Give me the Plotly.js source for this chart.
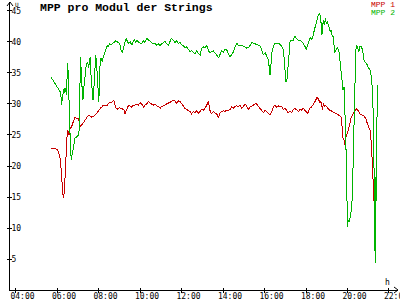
<!DOCTYPE html>
<html><head><meta charset="utf-8">
<script src="https://cdn.plot.ly/plotly-3.0.1.min.js"></script>
<style>html,body{margin:0;padding:0;background:#fff}#chart{width:400px;height:300px}
.scatterlayer path.js-line{shape-rendering:crispEdges}</style>
</head><body><div id="chart"></div>
<script>
// Time of day (HH:MM)
const times = [
"05:43","05:49","05:56","06:02","06:06","06:09","06:12","06:14","06:15","06:18","06:21","06:23","06:25","06:27","06:29","06:31","06:33","06:35","06:38","06:41","06:42","06:45","06:48","06:50","06:52","06:57","07:02","07:04","07:06","07:08","07:09","07:11","07:13","07:15","07:17","07:19","07:21","07:24","07:27","07:29","07:31","07:34","07:36","07:38","07:40","07:42","07:44","07:46","07:48","07:50","07:52","07:55","07:57","07:59","08:01","08:02","08:04","08:07","08:11","08:14","08:17","08:21","08:25","08:28","08:32","08:36","08:40","08:44","08:50","08:55","09:01","09:05","09:09","09:13","09:17","09:20","09:24","09:28","09:32","09:36","09:40","09:44","09:47","09:51","09:55","10:00",
"10:05","10:10","10:14","10:19","10:24","10:29","10:34","10:38","10:43","10:48","10:53","10:58","11:03","11:07","11:12","11:17","11:22","11:27","11:31","11:36","11:41","11:46","11:51","11:56","12:01","12:05","12:10","12:15","12:20","12:25","12:29","12:34","12:39","12:44","12:49","12:54","12:58","13:03","13:08","13:13","13:18","13:22","13:27","13:32","13:37","13:42","13:47","13:51","13:56","14:01","14:06","14:11","14:15","14:20",
"14:25","14:30","14:35","14:40","14:44","14:49","14:54","14:59","15:04","15:09","15:13","15:18","15:23","15:28","15:33","15:37","15:42","15:47","15:52","15:57","16:02","16:06","16:11","16:14","16:16","16:18","16:21","16:26","16:30","16:35","16:40","16:45","16:50","16:55","16:57","16:59","17:02","17:05","17:08","17:11","17:14","17:19","17:23","17:28","17:33","17:38","17:43","17:47","17:52","17:57","18:01","18:05","18:09","18:13","18:16","18:20","18:24","18:28","18:32","18:36","18:40",
"18:43","18:46","18:48","18:50","18:53","18:56","18:59","19:02","19:05","19:08","19:10","19:13","19:16","19:19","19:21","19:23","19:26","19:31","19:35","19:38","19:41","19:44","19:47","19:50","19:52","19:54","19:56","19:58","20:00","20:02","20:05","20:08","20:11","20:14","20:16","20:18","20:20","20:22","20:24","20:27","20:30","20:33","20:36","20:40","20:44","20:47","20:51","20:54","20:57","21:01","21:05","21:09","21:12","21:15","21:17","21:18","21:19","21:20","21:21","21:22","21:24","21:26","21:27"
];
// MPP 1 voltage (V)
const mpp1 = [
22.9,22.9,22.8,22.6,22.0,21.3,19.4,17.5,15.6,14.8,15.6,18.5,21.0,23.2,24.7,25.8,25.3,25.0,26.1,26.2,26.3,26.8,27.3,27.6,27.9,27.6,27.7,27.1,26.5,26.3,26.5,26.6,26.7,26.9,27.0,27.2,27.4,27.7,28.0,28.1,28.2,28.1,28.1,28.0,27.9,27.9,27.9,28.0,28.1,28.2,28.3,28.5,28.7,28.8,29.0,29.1,29.2,29.4,29.6,29.8,29.7,29.7,29.8,30.0,30.2,30.2,30.4,30.6,29.4,29.2,29.4,29.3,29.2,29.1,28.4,28.9,29.5,29.8,29.7,29.5,29.8,29.7,29.9,30.0,29.8,30.2,
30.0,29.5,29.8,30.0,30.4,30.2,30.1,29.8,30.0,29.7,29.6,29.3,29.6,29.7,29.8,30.0,30.1,30.2,30.4,30.6,30.5,30.1,30.5,30.4,30.0,29.7,29.3,29.1,29.0,28.8,28.4,28.8,28.6,28.9,28.5,28.9,29.1,29.0,29.3,29.8,30.5,29.0,28.4,28.8,28.5,28.4,27.8,28.5,28.8,28.9,28.8,29.0,28.9,29.1,
29.5,29.3,29.6,29.7,29.5,29.8,29.3,29.6,30.0,29.6,29.1,29.5,29.7,29.8,30.0,30.0,29.6,29.3,29.0,28.6,29.0,28.8,28.5,28.4,28.2,28.5,28.8,29.6,29.8,29.5,29.7,29.5,29.6,29.1,29.2,29.3,29.1,28.9,28.5,28.8,28.9,28.6,29.1,29.3,29.0,28.8,29.1,29.0,29.3,29.0,28.8,28.5,29.1,29.5,29.5,29.8,30.2,30.6,31.1,30.8,30.2,
30.4,29.6,29.0,30.1,29.6,29.8,29.6,29.3,29.1,29.0,29.0,28.9,28.8,28.8,28.7,28.6,28.5,28.4,28.2,28.1,28.0,26.6,24.5,24.2,23.4,24.5,24.7,25.0,25.3,25.7,26.3,27.1,28.0,28.1,28.4,28.6,28.8,29.0,29.1,29.3,29.0,28.8,28.4,28.3,28.2,28.1,27.8,27.5,26.9,26.3,25.8,23.7,18.8,14.3,14.0,14.1,14.3,15.1,15.6,null,null,null,null
];
// MPP 2 voltage (V)
const mpp2 = [
34.3,33.8,33.2,32.8,32.4,32.0,31.0,29.8,31.0,32.0,32.6,31.8,32.6,31.5,35.0,36.6,33.9,29.0,24.7,21.0,21.5,22.3,23.1,23.9,24.5,24.7,25.0,25.8,31.1,37.6,36.6,33.9,31.8,30.6,32.3,33.4,35.0,36.0,36.6,36.8,35.8,37.1,37.6,35.0,33.4,31.9,30.6,31.8,34.4,36.6,37.9,36.0,33.9,31.8,30.3,32.3,36.0,37.4,36.8,37.6,38.2,38.7,39.4,39.2,39.8,39.5,39.7,40.0,40.2,40.0,39.8,38.7,38.2,39.2,40.3,40.6,40.0,39.8,40.0,39.5,40.0,40.5,39.8,40.3,40.0,39.8,
39.7,40.2,39.9,40.6,40.4,40.1,39.9,39.7,39.8,39.5,39.7,39.4,39.7,39.9,40.1,39.7,39.5,40.1,40.6,40.3,39.9,40.2,39.8,39.9,39.5,39.4,39.1,39.2,38.7,38.4,38.6,38.3,38.1,38.6,38.1,37.9,39.0,39.2,39.0,39.5,38.6,38.3,38.4,38.6,38.2,37.9,37.4,38.1,38.6,38.3,38.8,38.7,38.3,37.6,
37.9,38.4,39.3,39.8,39.5,39.4,39.5,39.3,39.1,39.0,39.1,39.4,39.9,39.8,39.8,39.7,39.5,39.4,38.7,37.9,38.3,37.7,37.1,35.8,34.7,35.8,38.2,39.4,39.8,39.7,39.8,39.6,39.3,38.6,37.1,35.5,33.6,33.9,36.6,38.2,40.1,40.3,40.3,41.0,40.5,40.3,40.3,40.1,39.8,39.3,38.8,39.5,40.3,40.8,40.4,40.9,41.9,42.7,43.8,44.4,44.6,
43.5,41.1,41.9,43.5,42.7,43.8,43.0,43.3,42.7,42.2,41.7,41.9,40.9,40.9,39.8,38.2,38.7,39.0,38.7,37.1,35.0,33.1,32.3,32.8,30.6,26.3,22.0,17.2,10.2,11.3,11.0,11.8,12.9,15.1,19.4,26.3,30.6,36.0,38.7,39.5,39.1,38.4,39.4,39.2,38.7,37.1,36.8,36.6,36.3,35.8,35.5,34.4,32.3,27.4,20.4,15.1,11.8,4.3,18.3,11.3,23.7,29.0,33.1
];
const seriesNames = ["MPP 1", "MPP 2"];
const xTickVals = [4, 6, 8, 10, 12, 14, 16, 18, 20, 22];
const xTickText = ["04:00","06:00","08:00","10:00","12:00","14:00","16:00","18:00","20:00","22:00"];
const yTickVals = [5, 10, 15, 20, 25, 30, 35, 40, 45];

const toHours = s => { const p = s.split(':').map(Number); return p[0] + p[1] / 60; };
const xs = times.map(toHours);

const RED = '#c80000', GREEN = '#00b400';
const xRange = [3.735, 22.434];
const yRange = [0, 46.45];
const mono = 'DejaVu Sans Mono, Liberation Mono, monospace';

const traces = [
  {x: xs, y: mpp1, name: seriesNames[0], type: 'scatter', mode: 'lines', line: {color: RED, width: 1}, connectgaps: false, hoverinfo: 'skip'},
  {x: xs, y: mpp2, name: seriesNames[1], type: 'scatter', mode: 'lines', line: {color: GREEN, width: 1}, connectgaps: false, hoverinfo: 'skip'},
  {x: [], y: [], xaxis: 'x2', yaxis: 'y2', type: 'scatter', mode: 'lines', showlegend: false, hoverinfo: 'skip'}
];

const axisCommon = {showgrid: false, zeroline: false, tickcolor: '#000', tickwidth: 1, linecolor: '#000', linewidth: 1, fixedrange: true};

const layout = {
  width: 400, height: 300,
  margin: {l: 10, r: 2, t: 2, b: 10, pad: 0},
  paper_bgcolor: '#ffffff', plot_bgcolor: '#ffffff',
  showlegend: false,
  font: {family: mono, size: 8, color: '#000'},
  title: {text: 'MPP pro Modul der Strings', font: {family: 'Liberation Mono, DejaVu Sans Mono, monospace', size: 11.5, weight: 'bold', color: '#000'},
          xref: 'container', x: 0.1, xanchor: 'left', yref: 'container', y: 1 - 7 / 300, yanchor: 'middle'},
  xaxis: Object.assign({}, axisCommon, {range: xRange, tickmode: 'array', tickvals: xTickVals, ticktext: xTickText,
          ticks: 'outside', ticklen: 2, showline: true, ticklabelshift: 7, ticklabelstandoff: -4, ticklabeloverflow: 'allow',
          tickfont: {family: mono, size: 8, color: '#000'}}),
  yaxis: Object.assign({}, axisCommon, {range: yRange, tickmode: 'array', tickvals: yTickVals,
          ticks: 'outside', ticklen: 2, showline: true, ticklabelposition: 'inside', ticklabeloverflow: 'allow',
          tickfont: {family: mono, size: 8, color: '#000'}}),
  xaxis2: Object.assign({}, axisCommon, {range: xRange, overlaying: 'x', anchor: 'y2', tickmode: 'array', tickvals: xTickVals,
          ticks: 'inside', ticklen: 2, showticklabels: false, showline: false}),
  yaxis2: Object.assign({}, axisCommon, {range: yRange, overlaying: 'y', anchor: 'x2', side: 'left', tickmode: 'array', tickvals: yTickVals,
          ticks: 'inside', ticklen: 2, showticklabels: false, showline: false}),
  shapes: [
    {type: 'path', xref: 'paper', yref: 'paper', xsizemode: 'pixel', ysizemode: 'pixel', xanchor: 0, yanchor: 1,
     path: 'M-3,-4 L0,0 L3,-4', line: {color: '#000', width: 1}},
    {type: 'path', xref: 'paper', yref: 'paper', xsizemode: 'pixel', ysizemode: 'pixel', xanchor: 1, yanchor: 0,
     path: 'M-4,3 L0,0 L-4,-3', line: {color: '#000', width: 1}}
  ],
  annotations: [
    {text: 'U', xref: 'paper', yref: 'paper', x: 0, y: 1, xanchor: 'left', yanchor: 'top', xshift: 3, yshift: 3, showarrow: false,
     font: {family: mono, size: 6, color: '#000'}},
    {text: 'h', xref: 'paper', yref: 'paper', x: (387 - 10) / 388, y: (290 - 282) / 288, xanchor: 'center', yanchor: 'middle', showarrow: false,
     font: {family: mono, size: 8, color: '#000'}},
    {text: seriesNames[0], xref: 'paper', yref: 'paper', x: (369 - 10) / 388, y: (290 - 4.5) / 288, xanchor: 'left', yanchor: 'middle', showarrow: false,
     font: {family: 'Liberation Mono, monospace', size: 8, color: RED}},
    {text: seriesNames[1], xref: 'paper', yref: 'paper', x: (369 - 10) / 388, y: (290 - 12.5) / 288, xanchor: 'left', yanchor: 'middle', showarrow: false,
     font: {family: 'Liberation Mono, monospace', size: 8, color: GREEN}}
  ]
};

Plotly.newPlot('chart', traces, layout, {staticPlot: true, displayModeBar: false});
</script>
</body></html>
